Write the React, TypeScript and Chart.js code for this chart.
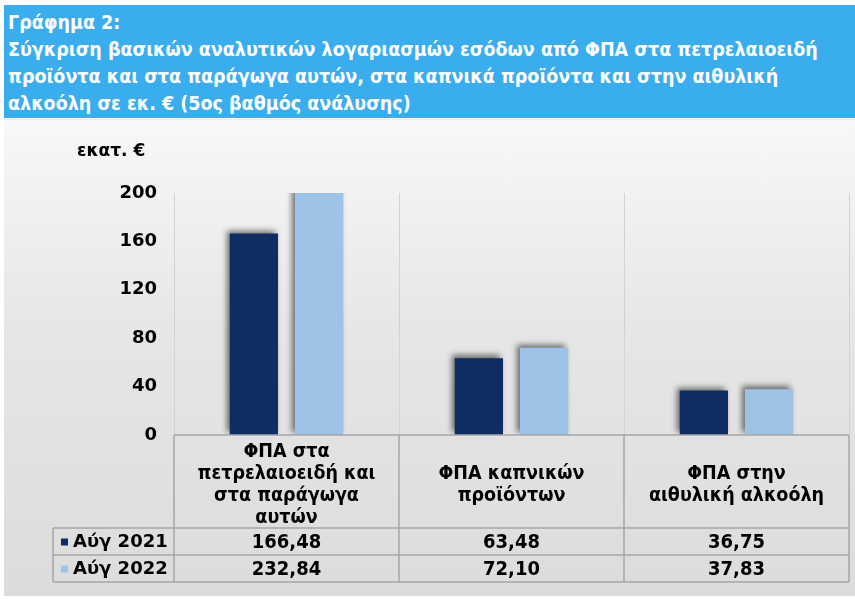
import React, { useEffect, useRef } from "react";
import { Chart, registerables } from "chart.js";

Chart.register(...registerables);

const titleLines = [
  "Γράφημα 2:",
  "Σύγκριση βασικών αναλυτικών λογαριασμών εσόδων από ΦΠΑ στα πετρελαιοειδή",
  "προϊόντα και στα παράγωγα αυτών, στα καπνικά προϊόντα και στην αιθυλική",
  "αλκοόλη σε εκ. € (5ος βαθμός ανάλυσης)",
];
const unitLabel = "εκατ. €";
const categories: string[][] = [
  ["ΦΠΑ στα", "πετρελαιοειδή και", "στα παράγωγα", "αυτών"],
  ["ΦΠΑ καπνικών", "προϊόντων"],
  ["ΦΠΑ στην", "αιθυλική αλκοόλη"],
];
const seriesNames = ["Αύγ 2021", "Αύγ 2022"];
const aug2021 = [166.48, 63.48, 36.75];
const aug2022 = [232.84, 72.1, 37.83];
const yMin = 0;
const yMax = 200;
const yStep = 40;
const seriesColors = ["#0F2D63", "#9DC3E6"];

const fmt = (v: number) => v.toFixed(2).replace(".", ",");

const shadowPlugin = {
  id: "barShadow",
  beforeDatasetsDraw(chart: any) {
    const ctx = chart.ctx;
    ctx.save();
    ctx.shadowColor = "rgba(0,0,0,0.55)";
    ctx.shadowBlur = 6;
    ctx.shadowOffsetX = -3;
    ctx.shadowOffsetY = -3;
  },
  afterDatasetsDraw(chart: any) {
    chart.ctx.restore();
  },
};

const tablePlugin = {
  id: "dataTable",
  afterDraw(chart: any) {
    const { ctx, chartArea: a } = chart;
    const x = chart.scales.x;
    const top = a.bottom;
    const hdrBottom = top + 93;
    const row1 = hdrBottom + 27;
    const row2 = row1 + 27;
    const left = 53;
    const n = categories.length;
    const edges: number[] = [a.left];
    for (let i = 0; i < n - 1; i++) {
      edges.push((x.getPixelForValue(i) + x.getPixelForValue(i + 1)) / 2);
    }
    edges.push(a.right);

    ctx.save();
    ctx.strokeStyle = "#A6A6A6";
    ctx.lineWidth = 1.5;
    const line = (x1: number, y1: number, x2: number, y2: number) => {
      ctx.beginPath();
      ctx.moveTo(x1, y1);
      ctx.lineTo(x2, y2);
      ctx.stroke();
    };
    line(a.left, top, a.right, top);
    line(left, hdrBottom, a.right, hdrBottom);
    line(left, row1, a.right, row1);
    line(left, row2, a.right, row2);
    edges.forEach((e) => line(e, top, e, row2));
    line(left, hdrBottom, left, row2);

    ctx.fillStyle = "#000";
    ctx.textAlign = "center";
    ctx.textBaseline = "middle";
    ctx.font = 'bold 19.5px "DejaVu Sans Condensed", "DejaVu Sans", sans-serif';
    const hdrCenter = (top + hdrBottom) / 2 + 3;
    const lh = 22;
    categories.forEach((lines, i) => {
      const cx = (edges[i] + edges[i + 1]) / 2;
      const y0 = hdrCenter - ((lines.length - 1) * lh) / 2;
      lines.forEach((t, j) => ctx.fillText(t, cx, y0 + j * lh));
    });

    ctx.font = 'bold 20px "DejaVu Sans Condensed", "DejaVu Sans", sans-serif';
    const rows = [aug2021, aug2022];
    const rowCenters = [(hdrBottom + row1) / 2 + 1, (row1 + row2) / 2 + 1];
    rows.forEach((vals, r) => {
      vals.forEach((v, i) => {
        const cx = (edges[i] + edges[i + 1]) / 2;
        ctx.fillText(fmt(v), cx, rowCenters[r]);
      });
    });

    ctx.textAlign = "left";
    ctx.font = 'bold 18px "DejaVu Sans", sans-serif';
    seriesNames.forEach((s, r) => {
      ctx.fillStyle = seriesColors[r];
      ctx.fillRect(left + 8, rowCenters[r] - 4, 7, 7);
      ctx.fillStyle = "#000";
      ctx.fillText(s, left + 20, rowCenters[r]);
    });
    ctx.restore();
  },
};

export default function App() {
  const ref = useRef<HTMLCanvasElement>(null);
  useEffect(() => {
    if (!ref.current) return;
    const chart = new Chart(ref.current, {
      type: "bar",
      data: {
        labels: categories.map((c) => c.join(" ")),
        datasets: [
          {
            label: seriesNames[0],
            data: aug2021,
            backgroundColor: seriesColors[0],
            barPercentage: 0.74,
            categoryPercentage: 0.58,
          },
          {
            label: seriesNames[1],
            data: aug2022,
            backgroundColor: seriesColors[1],
            barPercentage: 0.74,
            categoryPercentage: 0.58,
          },
        ],
      },
      options: {
        animation: false,
        responsive: false,
        devicePixelRatio: 1,
        layout: { padding: { top: 193, bottom: 164, left: 0, right: 6 } },
        plugins: { legend: { display: false }, tooltip: { enabled: false } },
        scales: {
          x: {
            ticks: { display: false },
            grid: { color: "#D2D2D2", drawTicks: false, offset: true, lineWidth: 1 },
            border: { display: false },
            afterFit: (s: any) => {
              s.height = 0;
            },
          },
          y: {
            min: yMin,
            max: yMax,
            ticks: {
              stepSize: yStep,
              padding: 17,
              color: "#000",
              font: { family: '"DejaVu Sans", sans-serif', size: 18, weight: "bold" },
            },
            grid: { display: false, drawTicks: false },
            border: { display: false },
            afterFit: (s: any) => {
              s.width = 174;
            },
          },
        },
      },
      plugins: [shadowPlugin, tablePlugin],
    } as any);
    return () => chart.destroy();
  }, []);

  return (
    <div
      style={{
        position: "absolute",
        left: 0,
        top: 0,
        width: 855,
        height: 599,
        background: "#fff",
        overflow: "hidden",
      }}
    >
      <div
        style={{
          position: "absolute",
          left: 4,
          top: 119,
          width: 851,
          height: 476,
          background: "linear-gradient(to bottom, #F8F8F8 0%, #E6E6E6 45%, #DCDCDC 100%)",
          borderTop: "1px solid #E4EEF5",
        }}
      />
      <canvas
        ref={ref}
        width={855}
        height={599}
        style={{ position: "absolute", left: 0, top: 0, width: 855, height: 599 }}
      />
      <div
        style={{
          position: "absolute",
          left: 4,
          top: 5,
          width: 851,
          height: 113,
          background: "#3AADEE",
          color: "#fff",
          fontFamily: '"DejaVu Sans Condensed", "DejaVu Sans", sans-serif',
          fontWeight: "bold",
          fontSize: 19.5,
          lineHeight: "27px",
          paddingLeft: 4,
          paddingTop: 4,
          boxSizing: "border-box",
          whiteSpace: "nowrap",
        }}
      >
        {titleLines.map((t, i) => (
          <div key={i}>{t}</div>
        ))}
      </div>
      <div
        style={{
          position: "absolute",
          left: 77,
          top: 140,
          fontFamily: '"DejaVu Sans", sans-serif',
          fontWeight: "bold",
          fontSize: 17,
          lineHeight: "20px",
          color: "#000",
          whiteSpace: "nowrap",
        }}
      >
        {unitLabel}
      </div>
    </div>
  );
}
